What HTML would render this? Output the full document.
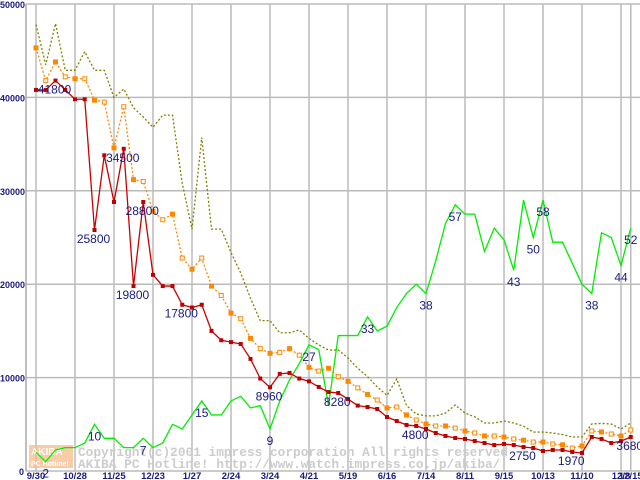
<!DOCTYPE html>
<html><head><meta charset="utf-8"><style>
body{margin:0;background:#fff;}
svg{display:block;}
text{font-family:"Liberation Sans",sans-serif;}
</style></head><body>
<svg id="chart" width="640" height="480" viewBox="0 0 640 480" xmlns="http://www.w3.org/2000/svg"></svg>
<script>
const xLabels=["9/30","10/28","11/25","12/23","1/27","2/24","3/24","4/21","5/19","6/16","7/14","8/11","9/15","10/13","11/10","12/8","12/15"];
const xLabelIdx=[0,4,8,12,16,20,24,28,32,36,40,44,48,52,56,60,61];
const yTicks=[0,10000,20000,30000,40000,50000];
const priceRed=[40800,40800,41800,40800,39800,39800,25800,33800,28800,34500,19800,28800,21000,19800,19800,17800,17500,17800,15000,14000,13800,13600,12000,9900,8960,10400,10500,9900,9600,9000,8450,8350,7700,7000,6850,6640,5780,5350,4930,4820,4500,4070,3750,3530,3430,3210,3000,2780,2890,2780,2570,2460,2140,2250,2250,2030,1930,3640,3430,3000,3200,3640];
const priceOrange=[45300,41800,43800,42200,42000,42000,39700,39500,34600,39000,31200,31000,27800,26900,27500,22800,21600,22800,19800,18800,16900,16300,14200,13100,12600,12700,13100,12400,11100,10700,11000,10100,9600,8900,8200,7600,6750,6850,6000,5460,5030,4820,4820,4600,4280,4070,3750,3750,3640,3430,3300,3100,3100,2890,2800,2460,2680,4280,4180,3960,3750,4390];
const priceOlive=[47800,43500,47900,42900,42900,44900,42900,42900,40000,40900,38900,37900,36800,38100,38100,30800,25900,35700,25900,25900,23400,21200,18500,16100,16100,14800,14800,15100,14200,13500,12950,12950,12100,11000,10100,9000,8100,9850,7000,6100,5900,5900,6200,7070,6200,5800,5140,5140,5350,5140,4800,4170,4170,4070,3900,3640,3640,5030,5100,5030,4500,5140];
const rankGreen=[4,2,4.5,5,5,6,10,7,7,5,5,7,5,6,10,9,12,15,12,12,15,16,13.5,14,9,15,19.5,23,27,26,14,29,29,29,33,30,31,35,38,40,38,45,53,57,55,55,47,52,49.5,43,58,50,58,49,49,44.5,40,38,51,50,44,52];
const redLabelIdx=[2,6,9,10,11,15,24,31,39,50,55,61];
const redLabelText=["41800","25800","34500","19800","28800","17800","8960","8280","4800","2750","1970","3680"];
const greenLabelIdx=[1,6,11,17,24,28,34,40,43,49,51,52,57,60,61];
const greenLabelText=["2","10","7","15","9","27","33","38","57","43","50","58","38","44","52"];

const NS="http://www.w3.org/2000/svg";
const svg=document.getElementById('chart');
const X=i=>36+i*9.75;
const Y=v=>471-v*0.00934;
const RANK=500;
function mk(t,a){const e=document.createElementNS(NS,t);for(const k in a)e.setAttribute(k,a[k]);svg.appendChild(e);return e;}

yTicks.forEach((v,k)=>{
  const l=mk('line',{x1:26,x2:640,y1:Y(v),y2:Y(v),stroke:'#bbbbbb','stroke-width':1.5});
  
  
  const t=mk('text',{x:v===0?24:25,y:Y(v)+4,'text-anchor':'end','font-size':9,'font-weight':'bold',fill:'#1a1a80'});
  t.textContent=String(v);
  
  
});
xLabelIdx.forEach((idx,k)=>{
  const l=mk('line',{x1:X(idx),x2:X(idx),y1:4,y2:471,stroke:'#bbbbbb','stroke-width':1.5});
  
  
});
const ax=mk('line',{x1:26,x2:26,y1:4,y2:471,stroke:'#aaaaaa','stroke-width':1.5});


xLabelIdx.forEach((idx,k)=>{
  const t=mk('text',{x:X(idx),y:479,'text-anchor':'middle','font-size':9.5,'font-weight':'bold',fill:'#1a1a80'});
  t.textContent=xLabels[k];
  
  
});

const logo=mk('rect',{x:29,y:445,width:44,height:23,fill:'#f7b98a',opacity:0.75});


const lt1=mk('text',{x:31,y:455,'font-size':10,'font-weight':'bold',fill:'#fff'});lt1.textContent='AKIBA';


const lt2=mk('text',{x:31,y:466,'font-size':7,'font-weight':'bold',fill:'#fff'});lt2.textContent='PC Hotline!';


const w1=mk('text',{x:78,y:456,'font-size':12.8,'font-weight':'bold',fill:'#cccccc',style:'font-family:"Liberation Mono",monospace'});
w1.textContent='Copyright(c)2001 impress corporation All rights reserved';


const w2=mk('text',{x:78,y:468,'font-size':12.8,'font-weight':'bold',fill:'#cccccc',style:'font-family:"Liberation Mono",monospace'});
w2.textContent='AKIBA PC Hotline!  http://www.watch.impress.co.jp/akiba/';



function line(arr,scale,color,dash,name){
  const p=mk('polyline',{points:arr.map((v,i)=>X(i)+','+Y(v*scale)).join(' '),fill:'none',stroke:color,'stroke-width':1.3,'stroke-dasharray':dash||'none'});
  
  
}
line(priceOlive,1,'#808000','2,2','olive-series-line');
line(priceOrange,1,'#ff8800','2,2','orange-series-line');
line(rankGreen,RANK,'#00ee00',null,'green-rank-line');
line(priceRed,1,'#cc0000',null,'red-price-line');
priceOrange.forEach((v,i)=>{
  const r=mk('rect',{x:X(i)-2,y:Y(v)-2,width:4,height:4,fill:i%2?'#fff':'#ff8800',stroke:'#ff8800','stroke-width':1});
  
  
});
priceRed.forEach((v,i)=>{
  const r=mk('rect',{x:X(i)-2,y:Y(v)-2,width:4,height:4,fill:'#bb0000'});
  
  
});
redLabelIdx.forEach((idx,k)=>{
  const t=mk('text',{x:X(idx)-1,y:Y(priceRed[idx])+13,'text-anchor':'middle','font-size':12,fill:'#1a1a80'});
  t.textContent=redLabelText[k];
  
  
});
greenLabelIdx.forEach((idx,k)=>{
  const t=mk('text',{x:X(idx),y:Y(rankGreen[idx]*RANK)+16,'text-anchor':'middle','font-size':12,fill:'#1a1a80'});
  t.textContent=greenLabelText[k];
  
  
});
</script>
</body></html>
